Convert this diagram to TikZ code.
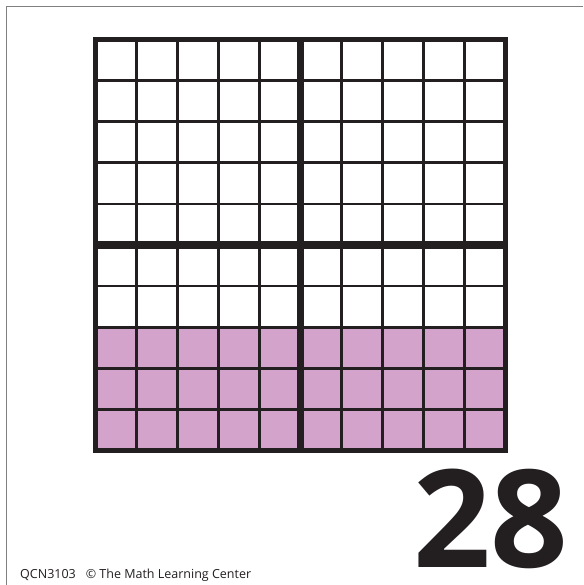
\documentclass[tikz,border=0pt]{standalone}
\usepackage{fontspec}
\setmainfont{Open Sans}
\definecolor{cellfill}{HTML}{D3A3CB}
\definecolor{ink}{HTML}{231F20}
\definecolor{edgegray}{HTML}{808080}
\begin{document}
\begin{tikzpicture}[x=1pt,y=-1pt,
  thinline/.style={line width=2.6pt,draw=ink},
  thickline/.style={line width=7.5pt,draw=ink},
  frameline/.style={line width=5pt,draw=ink,line join=miter},
  pageedge/.style={line width=1.5pt,draw=edgegray}]
\useasboundingbox (0,0) rectangle (583,585);
\fill[white] (0,0) rectangle (583,585);
\draw[pageedge] (6.5,585) -- (6.5,6.5) -- (583,6.5);
% shaded rows
\fill[cellfill] (95.5,{39.5+7*41.1}) rectangle (505.5,450.5);
% thin grid lines
\foreach \i in {1,2,3,4,6,7,8,9}{
  \draw[thinline] ({95.5+\i*41},39.5) -- ({95.5+\i*41},450.5);
  \draw[thinline] (95.5,{39.5+\i*41.1}) -- (505.5,{39.5+\i*41.1});
}
% thick middle lines
\draw[thickline] (300.5,39.5) -- (300.5,450.5);
\draw[thickline] (95.5,{39.5+5*41.1}) -- (505.5,{39.5+5*41.1});
% outer frame
\draw[frameline] (95.5,39.5) rectangle (505.5,450.5);
% number
\node[anchor=base west,inner sep=0pt,text=ink,font={\fontsize{136}{136}\selectfont\bfseries}] (num) at (413,567) {28};
% footer
\node[anchor=base west,inner sep=0pt,text=ink,font={\fontsize{12.5}{13}\selectfont}] (foot) at (20,578) {QCN3103\hspace{10pt}© The Math Learning Center};
\end{tikzpicture}
\end{document}
